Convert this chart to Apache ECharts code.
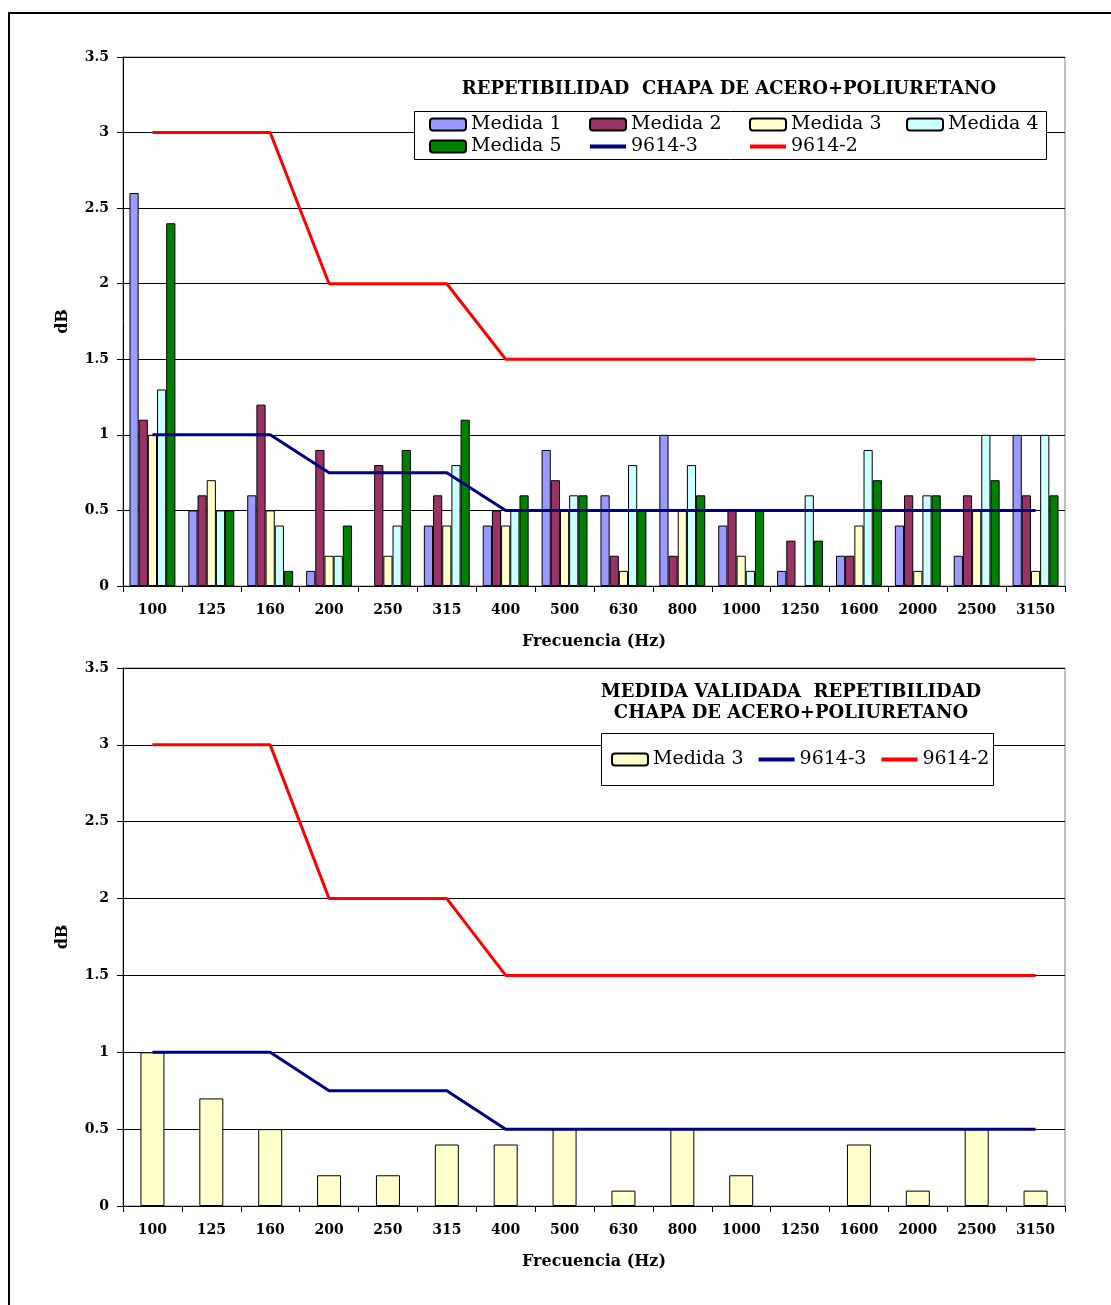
<!DOCTYPE html>
<html>
<head>
<meta charset="utf-8">
<script src="https://cdn.jsdelivr.net/npm/echarts@6/dist/echarts.min.js"></script>
<style>
  html, body { margin: 0; padding: 0; background: #fff; }
  #chart { width: 1111px; height: 1305px; }
</style>
</head>
<body>
<div id="chart"></div>
<script>
// frequency bands (Hz)
const categories = ['100', '125', '160', '200', '250', '315', '400', '500', '630', '800', '1000', '1250', '1600', '2000', '2500', '3150'];

// repeatability measurements (dB)
const medida1 = [2.6, 0.5, 0.6, 0.1, 0, 0.4, 0.4, 0.9, 0.6, 1.0, 0.4, 0.1, 0.2, 0.4, 0.2, 1.0];
const medida2 = [1.1, 0.6, 1.2, 0.9, 0.8, 0.6, 0.5, 0.7, 0.2, 0.2, 0.5, 0.3, 0.2, 0.6, 0.6, 0.6];
const medida3 = [1.0, 0.7, 0.5, 0.2, 0.2, 0.4, 0.4, 0.5, 0.1, 0.5, 0.2, 0, 0.4, 0.1, 0.5, 0.1];
const medida4 = [1.3, 0.5, 0.4, 0.2, 0.4, 0.8, 0.5, 0.6, 0.8, 0.8, 0.1, 0.6, 0.9, 0.6, 1.0, 1.0];
const medida5 = [2.4, 0.5, 0.1, 0.4, 0.9, 1.1, 0.6, 0.6, 0.5, 0.6, 0.5, 0.3, 0.7, 0.6, 0.7, 0.6];

// limits from the standards
const lim9614_3 = [1, 1, 1, 0.75, 0.75, 0.75, 0.5, 0.5, 0.5, 0.5, 0.5, 0.5, 0.5, 0.5, 0.5, 0.5];
const lim9614_2 = [3, 3, 3, 2, 2, 2, 1.5, 1.5, 1.5, 1.5, 1.5, 1.5, 1.5, 1.5, 1.5, 1.5];

const topTitle = 'REPETIBILIDAD  CHAPA DE ACERO+POLIURETANO';
const bottomTitle = ['MEDIDA VALIDADA  REPETIBILIDAD', 'CHAPA DE ACERO+POLIURETANO'];

const FONT = 'DejaVu Serif';
const colors = {
  m1: '#9999FF', m2: '#993366', m3: '#FFFFCC', m4: '#CCFFFF', m5: '#008000',
  l3: '#000080', l2: '#FF0000'
};

const chart = echarts.init(document.getElementById('chart'));

function xAxisFor(gridIndex) {
  return {
    type: 'category',
    gridIndex: gridIndex,
    data: categories,
    name: 'Frecuencia (Hz)',
    nameLocation: 'middle',
    nameGap: 48,
    nameTextStyle: { fontFamily: FONT, fontWeight: 'bold', fontSize: 16, color: '#000' },
    axisLine: { lineStyle: { color: '#000', width: 1 } },
    axisTick: { show: true, length: 6, lineStyle: { color: '#000' } },
    axisLabel: { margin: 17, fontFamily: FONT, fontWeight: 'bold', fontSize: 14, color: '#000' }
  };
}

function yAxisFor(gridIndex) {
  return {
    type: 'value',
    gridIndex: gridIndex,
    min: 0,
    max: 3.5,
    interval: 0.5,
    name: 'dB',
    nameLocation: 'middle',
    nameGap: 52,
    nameRotate: 90,
    nameTextStyle: { fontFamily: FONT, fontWeight: 'bold', fontSize: 16, color: '#000' },
    axisLine: { show: true, lineStyle: { color: '#000', width: 1 } },
    axisTick: { show: true, length: 6, lineStyle: { color: '#000' } },
    axisLabel: { margin: 14, fontFamily: FONT, fontWeight: 'bold', fontSize: 14, color: '#000' },
    splitLine: { show: true, lineStyle: { color: '#000', width: 1 } }
  };
}

// empty bars (value 0) are not drawn in the original
function nonZero(arr) {
  return arr.map(v => (v === 0 ? '-' : v));
}

function barSeries(name, data, color, axisIndex, extra) {
  return Object.assign({
    name: name,
    type: 'bar',
    xAxisIndex: axisIndex,
    yAxisIndex: axisIndex,
    data: nonZero(data),
    itemStyle: { color: color, borderColor: '#000', borderWidth: 1 },
    emphasis: { disabled: true }
  }, extra || {});
}

function lineSeries(name, data, color, axisIndex) {
  return {
    name: name,
    type: 'line',
    xAxisIndex: axisIndex,
    yAxisIndex: axisIndex,
    data: data,
    symbol: 'none',
    z: 5,
    lineStyle: { color: color, width: 3 },
    itemStyle: { color: color },
    emphasis: { disabled: true }
  };
}

const legendText = { fontFamily: FONT, fontSize: 19, color: '#000' };

// line entries get a plain thick stroke, no marker
function legendItem(name) {
  if (name.indexOf('9614') === 0) {
    return { name: name, itemStyle: { opacity: 0 }, lineStyle: { width: 4 } };
  }
  return { name: name };
}

function legendAt(left, top, names, orient) {
  return {
    data: names.map(legendItem),
    left: left,
    top: top,
    orient: orient || 'vertical',
    itemWidth: 36,
    itemHeight: 12,
    itemGap: 3,
    padding: 0,
    selectedMode: false,
    textStyle: legendText,
    z: 10
  };
}

const options = {
  animation: false,
  grid: [
    { left: 123, top: 57, width: 942, height: 529, show: true, borderColor: '#808080', borderWidth: 1, backgroundColor: 'transparent' },
    { left: 123, top: 668, width: 942, height: 538, show: true, borderColor: '#808080', borderWidth: 1, backgroundColor: 'transparent' }
  ],
  xAxis: [xAxisFor(0), xAxisFor(1)],
  yAxis: [yAxisFor(0), yAxisFor(1)],
  legend: [
    legendAt(429, 115, ['Medida 1', 'Medida 5']),
    legendAt(588, 115, ['Medida 2', '9614-3']),
    legendAt(748, 115, ['Medida 3', '9614-2']),
    legendAt(906, 115, ['Medida 4']),
    Object.assign(legendAt(611, 750, ['Medida 3', '9614-3', '9614-2'], 'horizontal'), { itemGap: 13 })
  ],
  graphic: [
    // outer frame
    { type: 'rect', shape: { x: 9, y: 13, width: 1200, height: 1400 }, style: { fill: 'none', stroke: '#000', lineWidth: 2 }, z: 1 },
    // legend boxes
    { type: 'rect', shape: { x: 414.5, y: 111.5, width: 632, height: 48 }, style: { fill: '#fff', stroke: '#000', lineWidth: 1 }, z: 8 },
    { type: 'rect', shape: { x: 601.5, y: 733.5, width: 392, height: 52 }, style: { fill: '#fff', stroke: '#000', lineWidth: 1 }, z: 8 },
    // titles
    { type: 'text', x: 729, y: 89, z: 10, style: { text: topTitle, textAlign: 'center', textVerticalAlign: 'middle', font: 'bold 18px "DejaVu Serif"', fill: '#000' } },
    { type: 'text', x: 791, y: 692, z: 10, style: { text: bottomTitle[0], textAlign: 'center', textVerticalAlign: 'middle', font: 'bold 18px "DejaVu Serif"', fill: '#000' } },
    { type: 'text', x: 791, y: 713, z: 10, style: { text: bottomTitle[1], textAlign: 'center', textVerticalAlign: 'middle', font: 'bold 18px "DejaVu Serif"', fill: '#000' } }
  ],
  series: [
    barSeries('Medida 1', medida1, colors.m1, 0, { barGap: '0%', barCategoryGap: '22%' }),
    barSeries('Medida 2', medida2, colors.m2, 0),
    barSeries('Medida 3', medida3, colors.m3, 0),
    barSeries('Medida 4', medida4, colors.m4, 0),
    barSeries('Medida 5', medida5, colors.m5, 0),
    lineSeries('9614-3', lim9614_3, colors.l3, 0),
    lineSeries('9614-2', lim9614_2, colors.l2, 0),
    barSeries('Medida 3', medida3, colors.m3, 1, { barWidth: 24 }),
    lineSeries('9614-3', lim9614_3, colors.l3, 1),
    lineSeries('9614-2', lim9614_2, colors.l2, 1)
  ]
};

chart.setOption(options);
</script>
</body>
</html>
